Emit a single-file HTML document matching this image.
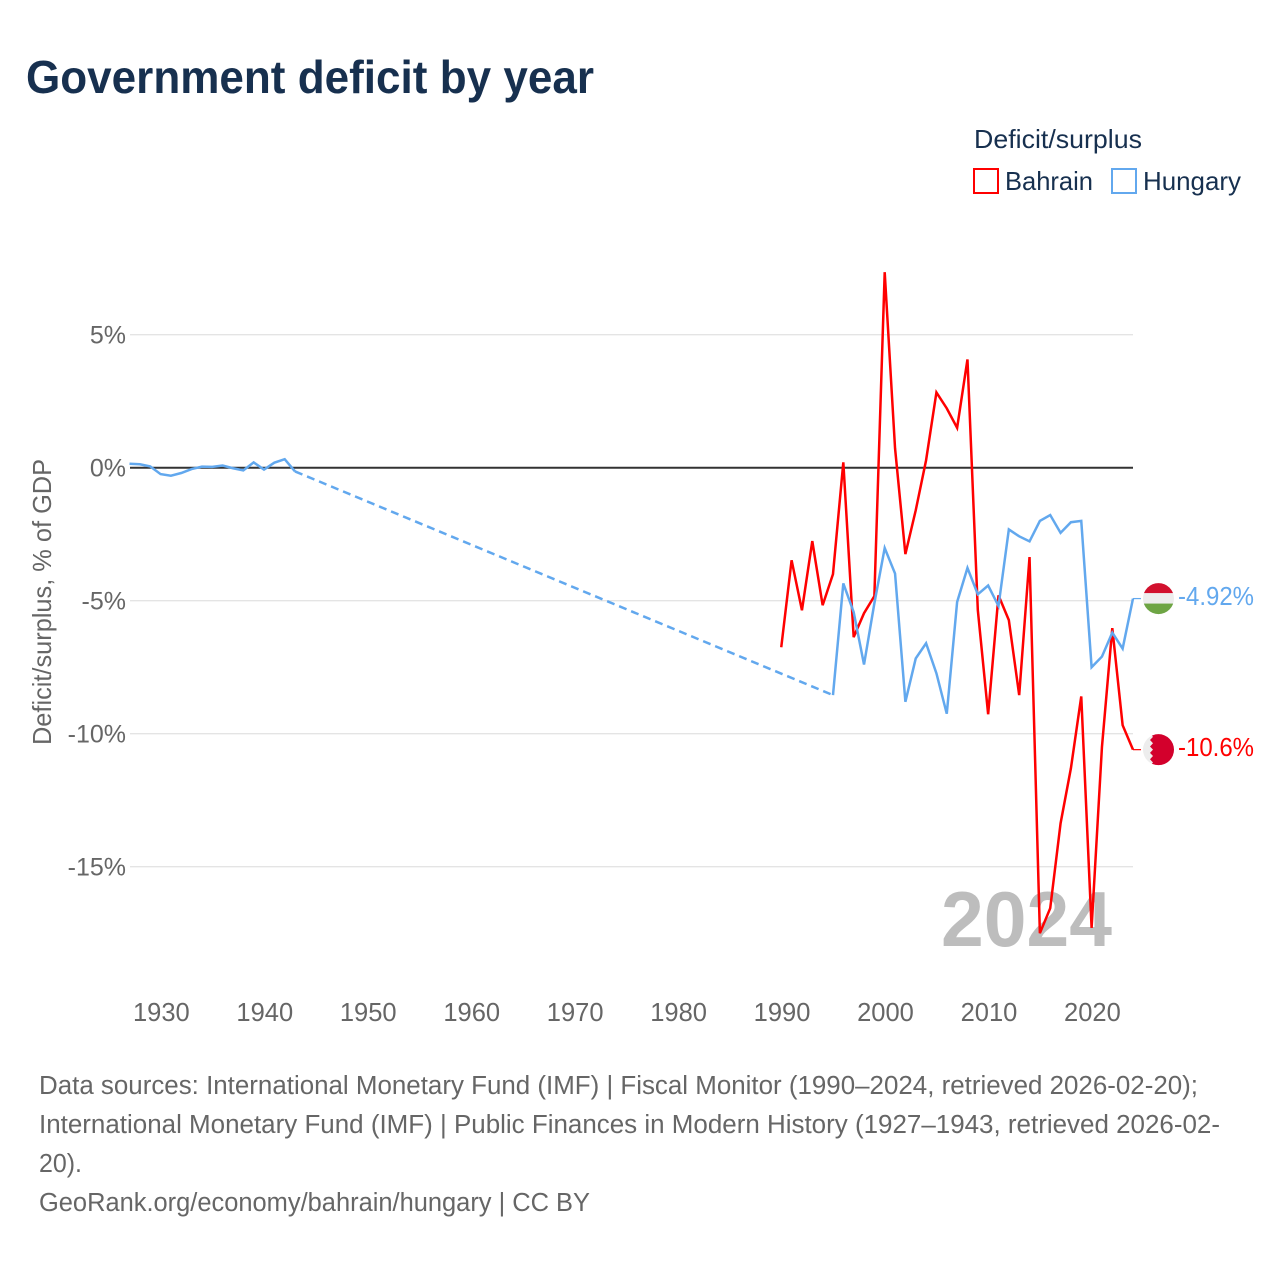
<!DOCTYPE html>
<html lang="en">
<head>
<meta charset="utf-8">
<title>Government deficit by year</title>
<style>
html,body{margin:0;padding:0;background:#fff;}
svg{display:block;font-family:"Liberation Sans",sans-serif;}
</style>
</head>
<body>
<svg id="chart" xmlns="http://www.w3.org/2000/svg" width="1280" height="1280" viewBox="0 0 1280 1280">
  <defs>
    <clipPath id="flag-clip"><circle cx="0" cy="0" r="15.5"/></clipPath>
  </defs>
  <rect x="0" y="0" width="1280" height="1280" fill="#fff"/>
  <text x="26" y="93" font-size="46" font-weight="700" fill="#17304f" textLength="568" lengthAdjust="spacingAndGlyphs">Government deficit by year</text>

  <g>
    <text x="974" y="148" font-size="26" fill="#17304f" textLength="168" lengthAdjust="spacingAndGlyphs">Deficit/surplus</text>
    <rect x="974" y="169" width="24" height="24" fill="#fff" stroke="#ff0000" stroke-width="2"/>
    <text x="1005" y="190" font-size="26" fill="#17304f" textLength="88" lengthAdjust="spacingAndGlyphs">Bahrain</text>
    <rect x="1112" y="169" width="24" height="24" fill="#fff" stroke="#62a8ee" stroke-width="2"/>
    <text x="1143" y="190" font-size="26" fill="#17304f" textLength="98" lengthAdjust="spacingAndGlyphs">Hungary</text>
  </g>

  <g id="grid"></g>
  <text x="941" y="946" font-size="78" font-weight="700" fill="#bdbdbd" textLength="171" lengthAdjust="spacingAndGlyphs">2024</text>
  <g id="y-ticks"></g>
  <g id="x-ticks"></g>
  <line id="zero-line" stroke="#333" stroke-width="2"/>
  <text transform="translate(51,745) rotate(-90)" x="0" y="0" font-size="26" fill="#666" textLength="286" lengthAdjust="spacingAndGlyphs">Deficit/surplus, % of GDP</text>
  <g id="series"></g>

  <g id="flag-hungary">
    <g clip-path="url(#flag-clip)">
      <rect x="-16" y="-16" width="32" height="32" fill="#ededed"/>
      <rect x="-16" y="-16" width="32" height="10.5" fill="#d2112e"/>
      <rect x="-16" y="5" width="32" height="11" fill="#6ea544"/>
    </g>
  </g>
  <g id="flag-bahrain">
    <g clip-path="url(#flag-clip)">
      <rect x="-16" y="-16" width="32" height="32" fill="#ededed"/>
      <polygon fill="#d3002c" points="16,-16 -8.5,-16 -5.5,-12.8 -8.5,-9.6 -5.5,-6.4 -8.5,-3.2 -5.5,0 -8.5,3.2 -5.5,6.4 -8.5,9.6 -5.5,12.8 -8.5,16 16,16"/>
    </g>
  </g>
  <text id="label-hungary" font-size="26" fill="#62a8ee" textLength="76" lengthAdjust="spacingAndGlyphs">-4.92%</text>
  <text id="label-bahrain" font-size="26" fill="#ff0000" textLength="76" lengthAdjust="spacingAndGlyphs">-10.6%</text>

  <g font-size="25.5" fill="#666">
    <text x="39" y="1094" textLength="1159" lengthAdjust="spacingAndGlyphs">Data sources: International Monetary Fund (IMF) | Fiscal Monitor (1990–2024, retrieved 2026-02-20);</text>
    <text x="39" y="1133" textLength="1181" lengthAdjust="spacingAndGlyphs">International Monetary Fund (IMF) | Public Finances in Modern History (1927–1943, retrieved 2026-02-</text>
    <text x="39" y="1172" textLength="43" lengthAdjust="spacingAndGlyphs">20).</text>
    <text x="39" y="1211" textLength="551" lengthAdjust="spacingAndGlyphs">GeoRank.org/economy/bahrain/hungary | CC BY</text>
  </g>
</svg>
<script>
var xTickYears = [1930, 1940, 1950, 1960, 1970, 1980, 1990, 2000, 2010, 2020];
var yTickValues = [5, 0, -5, -10, -15];
var yTickLabels = ["5%", "0%", "-5%", "-10%", "-15%"];

var bahrainYears = [1990,1991,1992,1993,1994,1995,1996,1997,1998,1999,2000,2001,2002,2003,2004,2005,2006,2007,2008,2009,2010,2011,2012,2013,2014,2015,2016,2017,2018,2019,2020,2021,2022,2023,2024];
var bahrainValues = [-6.75,-3.48,-5.36,-2.76,-5.17,-4.0,0.2,-6.37,-5.47,-4.83,7.35,0.73,-3.25,-1.6,0.28,2.83,2.23,1.5,4.07,-5.35,-9.27,-4.8,-5.73,-8.55,-3.36,-17.5,-16.56,-13.37,-11.3,-8.6,-17.3,-10.5,-6.03,-9.68,-10.6];

var hungaryYears = [1927,1928,1929,1930,1931,1932,1933,1934,1935,1936,1937,1938,1939,1940,1941,1942,1943,1995,1996,1997,1998,1999,2000,2001,2002,2003,2004,2005,2006,2007,2008,2009,2010,2011,2012,2013,2014,2015,2016,2017,2018,2019,2020,2021,2022,2023,2024];
var hungaryValues = [0.15,0.13,0.05,-0.24,-0.3,-0.2,-0.05,0.04,0.03,0.08,-0.02,-0.1,0.2,-0.07,0.19,0.32,-0.14,-8.55,-4.35,-5.43,-7.4,-5.1,-3.02,-3.98,-8.8,-7.17,-6.6,-7.73,-9.25,-5.05,-3.77,-4.76,-4.43,-5.2,-2.32,-2.58,-2.77,-2.0,-1.78,-2.45,-2.05,-2.0,-7.5,-7.1,-6.2,-6.8,-4.92];

var SVG_NS = "http://www.w3.org/2000/svg";
var plotLeft = 130;
var plotRight = 1133;

function xScale(year) {
  return 884.7 + (year - 2000) * 10.345;
}
function yScale(value) {
  return 467.7 - value * 26.6;
}
function make(tag, attrs, parent) {
  var el = document.createElementNS(SVG_NS, tag);
  Object.keys(attrs).forEach(function (k) { el.setAttribute(k, attrs[k]); });
  parent.appendChild(el);
  return el;
}

var gridGroup = document.getElementById("grid");
var yTickGroup = document.getElementById("y-ticks");
var xTickGroup = document.getElementById("x-ticks");
var seriesGroup = document.getElementById("series");

yTickValues.forEach(function (v, i) {
  if (v !== 0) {
    var gl = make("line", {x1: plotLeft, x2: plotRight, y1: yScale(v), y2: yScale(v), stroke: "#e4e4e4", "stroke-width": 1.3}, gridGroup);
    
    
  }
  var t = make("text", {x: 126, y: yScale(v) + 9, "text-anchor": "end", "font-size": 25, fill: "#666"}, yTickGroup);
  t.textContent = yTickLabels[i];
  
  
});

xTickYears.forEach(function (yr) {
  var t = make("text", {x: xScale(yr) + 0.8, y: 1021, "text-anchor": "middle", "font-size": 25.5, fill: "#666"}, xTickGroup);
  t.textContent = String(yr);
  
  
});

var zero = document.getElementById("zero-line");
zero.setAttribute("x1", plotLeft);
zero.setAttribute("x2", plotRight);
zero.setAttribute("y1", yScale(0));
zero.setAttribute("y2", yScale(0));

function drawSeries(years, values, color, seriesName) {
  var solid = "";
  var dashed = "";
  var startNew = true;
  for (var i = 0; i < years.length; i++) {
    var px = xScale(years[i]).toFixed(2) + " " + yScale(values[i]).toFixed(2);
    if (i > 0 && years[i] - years[i - 1] > 1) {
      dashed += "M" + xScale(years[i - 1]).toFixed(2) + " " + yScale(values[i - 1]).toFixed(2) + "L" + px;
      startNew = true;
    }
    solid += (startNew ? "M" : "L") + px;
    startNew = false;
  }
  if (dashed) {
    var d = make("path", {d: dashed, fill: "none", stroke: color, "stroke-width": 2.5, "stroke-dasharray": "8 5"}, seriesGroup);
    
    
  }
  var line = make("path", {d: solid, fill: "none", stroke: color, "stroke-width": 2.5, "stroke-linejoin": "miter"}, seriesGroup);
  
  

  var lastX = xScale(years[years.length - 1]);
  var lastY = yScale(values[values.length - 1]);
  var conn = make("line", {x1: lastX, x2: lastX + 8, y1: lastY, y2: lastY, stroke: color, "stroke-width": 1.2}, seriesGroup);
  
  
  return lastY;
}

var bahrainEnd = drawSeries(bahrainYears, bahrainValues, "#ff0000", "bahrain-line");
var hungaryEnd = drawSeries(hungaryYears, hungaryValues, "#62a8ee", "hungary-line");

document.getElementById("flag-hungary").setAttribute("transform", "translate(1158.5," + hungaryEnd + ")");
document.getElementById("flag-bahrain").setAttribute("transform", "translate(1158.5," + bahrainEnd + ")");
var labelH = document.getElementById("label-hungary");
labelH.setAttribute("x", 1178);
labelH.setAttribute("y", hungaryEnd + 6.5);
var labelB = document.getElementById("label-bahrain");
labelB.setAttribute("x", 1178);
labelB.setAttribute("y", bahrainEnd + 6.5);
</script>
</body>
</html>
